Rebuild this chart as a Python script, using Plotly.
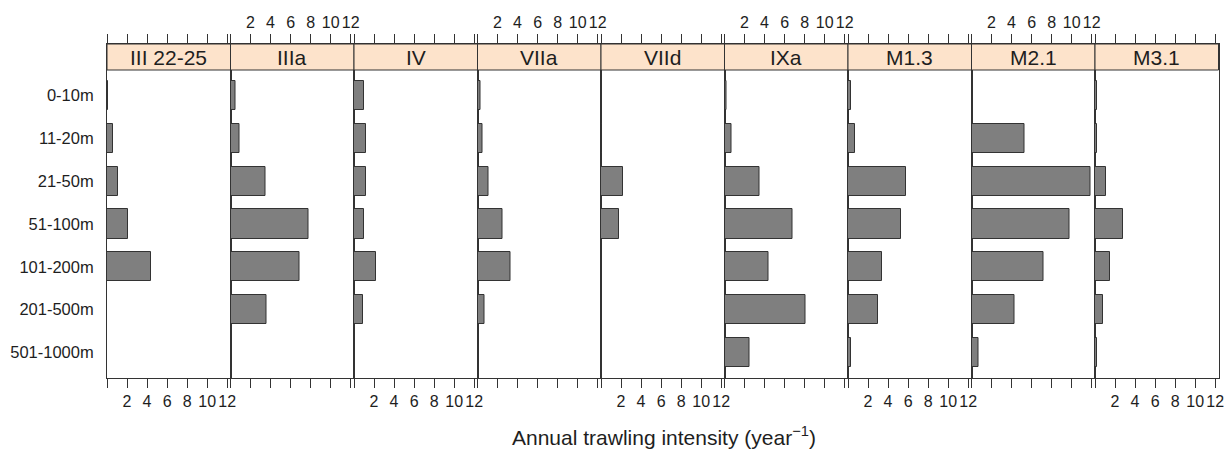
import plotly.graph_objects as go

depths = ["0-10m", "11-20m", "21-50m", "51-100m", "101-200m", "201-500m", "501-1000m"]
regions = ["III 22-25", "IIIa", "IV", "VIIa", "VIId", "IXa", "M1.3", "M2.1", "M3.1"]

iii_22_25 = [0.1, 0.55, 1.05, 2.05, 4.35, None, None]
iiia = [0.5, 0.85, 3.45, 7.8, 6.85, 3.6, 0.1]
iv = [0.95, 1.15, 1.15, 0.95, 2.2, 0.85, None]
viia = [0.3, 0.45, 1.05, 2.45, 3.25, 0.65, None]
viid = [None, 0.1, 2.2, 1.8, None, None, None]
ixa = [0.15, 0.65, 3.45, 6.8, 4.4, 8.05, 2.45]
m1_3 = [0.3, 0.65, 5.75, 5.3, 3.35, 2.95, 0.3]
m2_1 = [None, 5.25, 11.9, 9.75, 7.2, 4.3, 0.65]
m3_1 = [0.2, 0.2, 1.05, 2.75, 1.45, 0.75, 0.2]

series = [iii_22_25, iiia, iv, viia, viid, ixa, m1_3, m2_1, m3_1]

tick_vals = [0, 2, 4, 6, 8, 10, 12]
tick_text = [" ", "2", "4", "6", "8", "10", "12"]
x_title = "Annual trawling intensity (year<sup>\u22121</sup>)"

W, H = 1232, 450
FONT = "Liberation Sans, Arial, sans-serif"
LINE = "#333333"
TXT = "#1e1e1e"

left0 = 107.0
pw = 123.5
top_px, strip_bot_px, bot_px = 44.0, 70.0, 378.0

def px_x(p):
    return p / W

def px_y(p):
    return 1 - p / H

fig = go.Figure()
layout = dict(
    width=W, height=H, autosize=False,
    margin=dict(l=0, r=0, t=0, b=0, pad=0, autoexpand=False),
    paper_bgcolor="white", plot_bgcolor="white",
    showlegend=False,
    font=dict(family=FONT, color=TXT, size=16),
    bargap=0,
)
shapes = []
annotations = []

unit_px = (bot_px - strip_bot_px) / 7.2
extra = (strip_bot_px - top_px) / unit_px
y_range = [6.6, -0.6 - extra]

for i, (name, vals) in enumerate(zip(regions, series)):
    n = "" if i == 0 else str(i + 1)
    fig.add_trace(go.Bar(
        x=vals, y=depths, orientation="h",
        width=0.68,
        marker=dict(color="#7f7f7f", line=dict(color=LINE, width=1)),
        xaxis="x" + n, yaxis="y" + n,
        hoverinfo="x+y",
    ))
    x0 = px_x(left0 + pw * i)
    x1 = px_x(left0 + pw * (i + 1))
    top_labels = (i % 2 == 1)
    layout["xaxis" + n] = dict(
        domain=[x0, x1], anchor="y" + n,
        range=[0, 12.33], tickvals=tick_vals, ticktext=tick_text,
        tickangle=0,
        side="top" if top_labels else "bottom",
        ticks="outside", ticklen=9, tickwidth=1, tickcolor=LINE,
        showline=True, linecolor=LINE, linewidth=1, mirror="ticks",
        showgrid=False, zeroline=False,
        tickfont=dict(size=16, color=TXT, family=FONT),
        fixedrange=True,
    )
    layout["yaxis" + n] = dict(
        domain=[px_y(bot_px), px_y(top_px)], anchor="x" + n,
        type="category", categoryorder="array", categoryarray=depths,
        range=y_range,
        showticklabels=(i == 0), ticks="",
        ticklabelstandoff=9,
        showline=True, linecolor=LINE, linewidth=1, mirror=True,
        showgrid=False, zeroline=False,
        tickfont=dict(size=16.5, color=TXT, family=FONT),
        fixedrange=True,
    )
    shapes.append(dict(
        type="rect", xref="x" + n + " domain", yref="paper",
        x0=0, x1=1, y0=px_y(strip_bot_px), y1=px_y(top_px),
        fillcolor="#fde3cb", line=dict(color=LINE, width=1), layer="above",
    ))
    annotations.append(dict(
        text=name, xref="x" + n + " domain", yref="paper",
        x=0.5, y=px_y((top_px + strip_bot_px) / 2), showarrow=False,
        xanchor="center", yanchor="middle",
        font=dict(size=21, color=TXT, family=FONT),
    ))

annotations.append(dict(
    text=x_title, xref="paper", yref="paper",
    x=px_x(664), y=px_y(436), showarrow=False,
    xanchor="center", yanchor="middle",
    font=dict(size=21, color=TXT, family=FONT),
))

layout["shapes"] = shapes
layout["annotations"] = annotations
fig.update_layout(**layout)
fig.write_html(
    "out.html",
    config={"displayModeBar": False},
    post_script="document.body.style.margin='0';document.body.style.overflow='hidden';",
)
